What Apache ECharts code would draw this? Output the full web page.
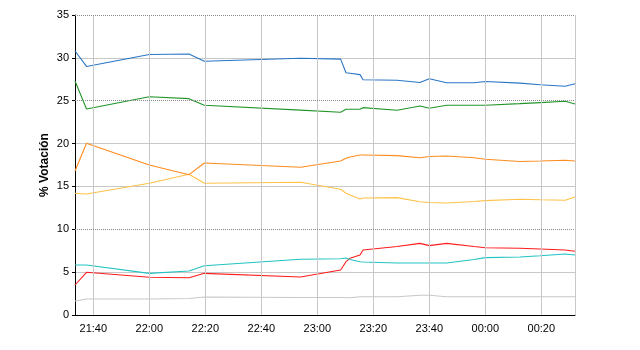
<!DOCTYPE html>
<html><head><meta charset="utf-8">
<script src="https://cdn.jsdelivr.net/npm/echarts@6/dist/echarts.min.js"></script>
<style>html,body{margin:0;padding:0;background:#fff}#c{width:640px;height:350px}</style>
</head><body><div id="c"></div>
<script>
// Sampling times (clock), shared by all series
const times = ['21:33:28','21:37:35','22:00:00','22:14:10','22:19:40','22:54:00','23:08:20','23:10:15','23:11:40','23:15:15','23:16:20','23:28:30','23:36:40','23:40:00','23:46:10','23:56:00','00:00:00','00:12:20','00:19:35','00:28:30','00:32:02'];
const blue   = [30.8,29.0,30.4,30.45,29.6,29.95,29.85,28.26,28.2,28.04,27.45,27.38,27.13,27.56,27.1,27.1,27.24,27.05,26.87,26.69,26.97];
const green  = [27.3,24.03,25.47,25.24,24.47,23.9,23.65,24.0,24.0,24.0,24.19,23.88,24.38,24.12,24.47,24.47,24.47,24.66,24.78,24.93,24.62];
const orange = [16.8,20.03,17.5,16.37,17.73,17.23,17.97,18.28,18.43,18.67,18.67,18.59,18.35,18.49,18.55,18.35,18.17,17.91,17.97,18.05,17.97];
const yellow = [14.2,14.12,15.37,16.42,15.37,15.48,14.67,14.2,14.0,13.53,13.65,13.69,13.22,13.13,13.07,13.24,13.34,13.5,13.44,13.38,13.77];
const teal   = [5.83,5.83,4.86,5.13,5.75,6.5,6.57,6.65,6.47,6.22,6.18,6.07,6.07,6.07,6.07,6.47,6.69,6.77,6.92,7.12,7.0];
const red    = [3.5,4.98,4.4,4.35,4.86,4.43,5.25,6.22,6.61,7.0,7.58,7.99,8.36,8.09,8.36,7.99,7.85,7.78,7.7,7.58,7.43];
const grey   = [1.63,1.87,1.87,1.92,2.1,2.04,2.04,2.02,2.02,2.13,2.13,2.13,2.3,2.3,2.13,2.13,2.13,2.13,2.13,2.13,2.13];
const xTicks = ['21:40','22:00','22:20','22:40','23:00','23:20','23:40','00:00','00:20'];
const yDotted = [10,25,35];
const yAxisName = '% Votación';

function toMin(s){const p=s.split(':').map(Number);let h=p[0];if(h<12)h+=24;return h*60+p[1]+(p[2]||0)/60;}
function fmt(v){let m=Math.round(v);let h=Math.floor(m/60)%24;let mm=m%60;return String(h).padStart(2,'0')+':'+String(mm).padStart(2,'0');}
const tx = times.map(toMin);
const tickVals = xTicks.map(toMin);
const xMin = tx[0], xMax = tx[tx.length-1];
function pts(arr){return arr.map((v,i)=>[tx[i],v]);}

const F = 'Liberation Sans, Arial, sans-serif';
const chart = echarts.init(document.getElementById('c'),null,{renderer:'canvas'});
const mk = (name,color,arr)=>({type:'line',name,data:pts(arr),showSymbol:false,symbol:'none',z:3,
  lineStyle:{color,width:1.1},itemStyle:{color},animation:false});
chart.setOption({
  animation:false,
  backgroundColor:'#fff',
  grid:{left:75,right:65,top:15,bottom:35},
  xAxis:{type:'value',min:xMin,max:xMax,
    axisLine:{lineStyle:{color:'#000',width:1}},
    axisTick:{show:false,customValues:tickVals},
    axisLabel:{customValues:tickVals,formatter:fmt,color:'#000',fontFamily:F,fontSize:11,margin:8},
    splitLine:{show:false}},
  yAxis:{type:'value',min:0,max:35,interval:5,
    name:yAxisName,nameLocation:'middle',nameRotate:90,nameGap:24,nameMoveOverlap:false,
    nameTextStyle:{color:'#000',fontFamily:F,fontSize:12,fontWeight:'bold'},
    axisLine:{show:true,lineStyle:{color:'#000',width:1}},
    axisTick:{show:true,length:3,lineStyle:{color:'#000'}},
    axisLabel:{color:'#000',fontFamily:F,fontSize:11,margin:6},
    splitLine:{show:true,lineStyle:{color:['#c8c8c8','#c8c8c8','rgba(0,0,0,0)','#c8c8c8','#c8c8c8','rgba(0,0,0,0)','#c8c8c8','rgba(0,0,0,0)'],width:1}}},
  series:[
    {type:'line',data:[],z:1,silent:true,
      markLine:{silent:true,symbol:['none','none'],label:{show:false},animation:false,
        data:tickVals.concat([xMax]).map(v=>({xAxis:v,lineStyle:{color:'#c8c8c8',width:1,type:'solid'}}))
          .concat(yDotted.map(v=>({yAxis:v,lineStyle:{color:'#8a8a8a',width:1,type:[1,1]}})))}},
    mk('grey','#c8c8c8',grey),
    mk('red','#ff1c1c',red),
    mk('teal','#22c3c3',teal),
    mk('yellow','#ffc247',yellow),
    mk('orange','#ff8c1e',orange),
    mk('green','#22952a',green),
    mk('blue','#2a76c6',blue)
  ]
});
</script></body></html>
